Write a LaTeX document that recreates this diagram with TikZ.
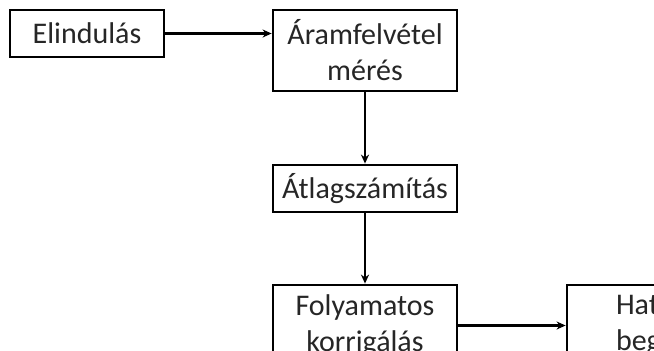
\documentclass[tikz,border=0pt]{standalone}
\usepackage{fontspec}
\setmainfont{Carlito}
\usetikzlibrary{arrows.meta}

\tikzset{
  stepbox/.style={draw, line width=2.8pt, inner sep=0pt, align=center,
    text=black!85, font=\fontsize{30}{36}\selectfont},
  flow/.style={line width=2.4pt, -{Stealth[length=9pt,width=8pt]}}
}

\begin{document}
\begin{tikzpicture}[x=1pt,y=-1pt]
\useasboundingbox (0,0) rectangle (654,351);
\clip (0,0) rectangle (654,351);

% boxes
\node[stepbox, minimum width=154pt, minimum height=47pt] (start) at (87,33.5) {Elindulás};
\node[stepbox, minimum width=184pt, minimum height=81pt] (meas) at (365,50.5) {Áramfelvétel\\mérés};
\node[stepbox, minimum width=184pt, minimum height=47pt] (avg) at (365,188.5) {Átlagszámítás};
\node[stepbox, minimum width=184pt, minimum height=81pt] (corr) at (365,325.5) {Folyamatos\\korrigálás};
\node[stepbox, minimum width=184pt, minimum height=81pt, text width=86pt, align=left] (limit) at (659,325.5) {Hat\\beg};

% arrows
\draw[flow] (start.east) -- (start.east -| meas.west);
\draw[flow] (meas) -- (avg);
\draw[flow] (avg) -- (corr);
\draw[flow] (corr) -- (limit);
\end{tikzpicture}
\end{document}
